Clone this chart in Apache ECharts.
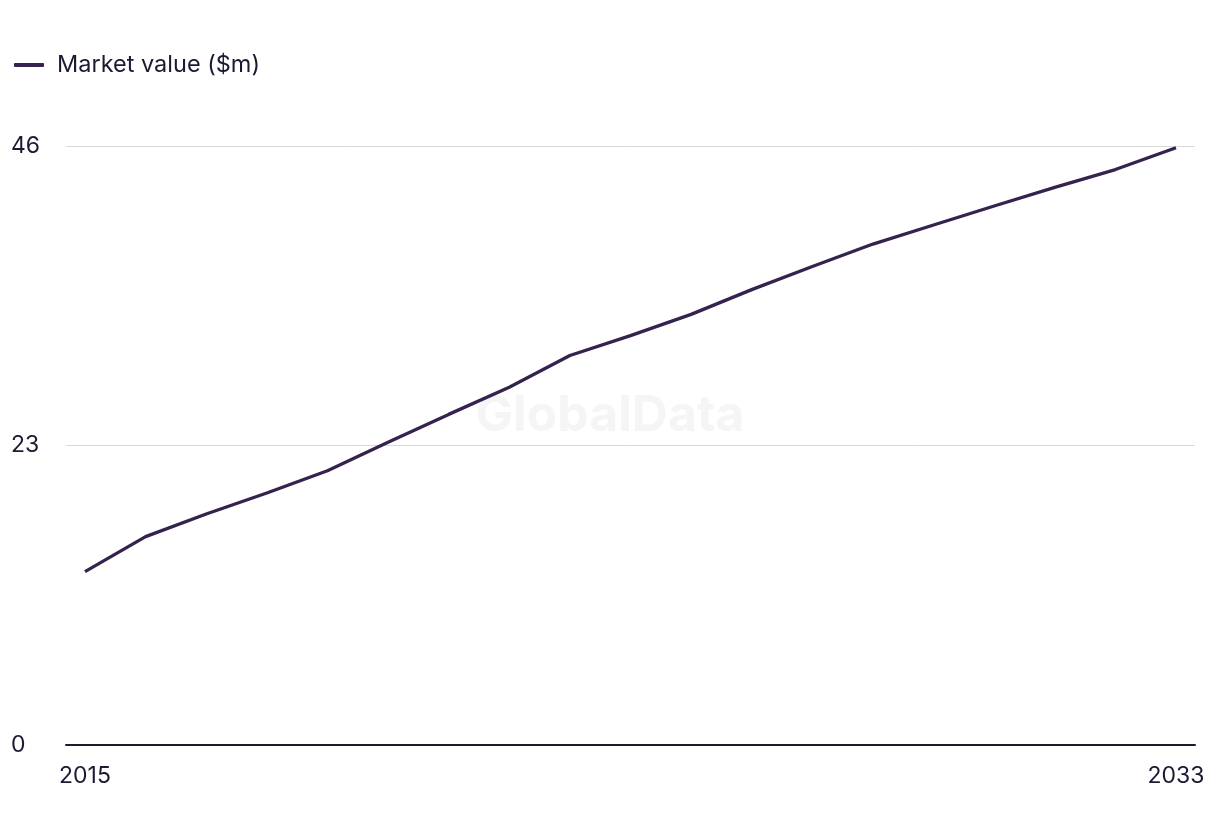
<!DOCTYPE html>
<html>
<head>
<meta charset="utf-8">
<script src="https://cdn.jsdelivr.net/npm/echarts@6/dist/echarts.min.js"></script>
<style>html,body{margin:0;padding:0;background:#fff}#c{width:1220px;height:836px}</style>
</head>
<body>
<div id="c"></div>
<script>
const years = [2015,2016,2017,2018,2019,2020,2021,2022,2023,2024,2025,2026,2027,2028,2029,2030,2031,2032,2033];
const marketValue = [13.31,16.0,17.74,19.35,21.06,23.25,25.39,27.48,29.91,31.44,33.07,34.97,36.75,38.47,39.93,41.39,42.82,44.19,45.87];
const xTickLabels = [2015, 2033];
const yTicks = [0, 23, 46];
const seriesName = 'Market value ($m)';

const font = 'Inter, "Noto Sans", sans-serif';
const chart = echarts.init(document.getElementById('c'));
chart.setOption({
  animation: false,
  backgroundColor: '#fff',
  graphic: [{
    type: 'text', left: 'center', top: 391, z: -1,
    style: { text: 'GlobalData', font: 'bold 50px ' + font, fill: '#f5f5f5' }
  }],
  legend: {
    left: 9, top: 48, itemWidth: 30, itemHeight: 4, itemGap: 10,
    icon: 'roundRect',
    textStyle: { fontFamily: font, fontSize: 23.5, color: '#1c1a33', padding: [0,0,0,8] },
    data: [seriesName]
  },
  grid: { left: 66, right: 25, top: 146, bottom: 91 },
  xAxis: {
    type: 'value',
    min: 2015 - 19/60.61, max: 2033 + 19/60.61,
    splitLine: { show: false },
    axisLine: { show: true, lineStyle: { color: '#1c1a33', width: 2 } },
    axisTick: { show: false },
    axisLabel: { customValues: xTickLabels, formatter: v => String(v), fontFamily: font, fontSize: 23, color: '#1c1a33', margin: 20 }
  },
  yAxis: {
    type: 'value', min: 0, max: 46, interval: 23,
    axisLine: { show: false }, axisTick: { show: false },
    splitLine: { lineStyle: { color: '#d9d9d9', width: 1 } },
    axisLabel: { fontFamily: font, fontSize: 23, color: '#1c1a33', align: 'left', margin: 55,
      customValues: yTicks }
  },
  series: [{
    name: seriesName, type: 'line', showSymbol: false, symbol: 'none',
    data: years.map((y,i) => [y, marketValue[i]]),
    lineStyle: { color: '#35224f', width: 3.3 },
    itemStyle: { color: '#35224f' }
  }]
});
</script>
</body>
</html>
